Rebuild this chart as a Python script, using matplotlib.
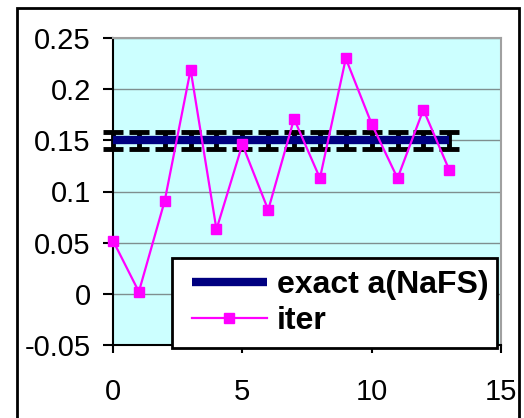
import matplotlib
matplotlib.use("Agg")
import matplotlib.pyplot as plt
from matplotlib.patches import Rectangle

plt.rcParams['font.family'] = ['Liberation Sans', 'DejaVu Sans']

iter_x = list(range(14))
iter_y = [0.052, 0.002, 0.091, 0.219, 0.063, 0.146, 0.082, 0.171, 0.113, 0.230, 0.166, 0.113, 0.180, 0.121]
exact_value = 0.15
exact_err = 0.0085
xticks = [0, 5, 10, 15]
yticks = [-0.05, 0, 0.05, 0.1, 0.15, 0.2, 0.25]
ytick_labels = ['-0.05', '0', '0.05', '0.1', '0.15', '0.2', '0.25']

W, H = 524, 418
fig = plt.figure(figsize=(W/100, H/100), dpi=100)
fig.patches.append(Rectangle((17/W, -0.1), (519-17)/W, 1.1 - 8/H,
                             transform=fig.transFigure, fill=False,
                             edgecolor='black', linewidth=2, zorder=1))
ax = fig.add_axes([113/W, 1-345/H, (501-113)/W, (345-38)/H])
ax.set_facecolor('#CCFFFF')
ax.set_xlim(0, 15)
ax.set_ylim(-0.05, 0.25)
ax.set_yticks(yticks)
ax.set_yticklabels(ytick_labels)
ax.set_xticks(xticks)
ax.yaxis.grid(True, color='#7f8f8f', linewidth=1)
ax.set_axisbelow(True)
for s in ['top', 'right']:
    ax.spines[s].set_color('#a0a0a0')
    ax.spines[s].set_linewidth(1.5)
for s in ['left', 'bottom']:
    ax.spines[s].set_color('black')
    ax.spines[s].set_linewidth(1.5)
ax.tick_params(axis='both', direction='out', width=1.5, labelsize=21, colors='black')
ax.tick_params(axis='y', length=7, pad=9)
ax.tick_params(axis='x', length=6, pad=18)

exact_x = iter_x
exact_y = [exact_value] * len(exact_x)
ax.errorbar(exact_x, exact_y, yerr=exact_err, fmt='none', ecolor='black',
            elinewidth=3.5, capsize=7, capthick=3.5, zorder=3, clip_on=False)
line_exact, = ax.plot(exact_x, exact_y, color='#000080', linewidth=6, solid_capstyle='butt',
                      label='exact a(NaFS)', zorder=4)
line_iter, = ax.plot(iter_x, iter_y, color='#FF00FF', linewidth=1.6, marker='s', markersize=7.5,
                     label='iter', zorder=5, clip_on=False)

# legend frame
fig.patches.append(Rectangle((172/W, 1-348/H), (497-172)/W, (348-258)/H,
                             transform=fig.transFigure, facecolor='white',
                             edgecolor='black', linewidth=2, zorder=6))
leg = fig.legend(handles=[line_exact, line_iter], loc='upper left',
                 bbox_to_anchor=(192/W, 1-270/H), frameon=False,
                 prop={'weight': 'bold', 'size': 23}, handlelength=2.34,
                 handletextpad=0.31, borderpad=0, borderaxespad=0, labelspacing=0.2)
leg.set_zorder(7)

fig.savefig('out.png', dpi=100)
